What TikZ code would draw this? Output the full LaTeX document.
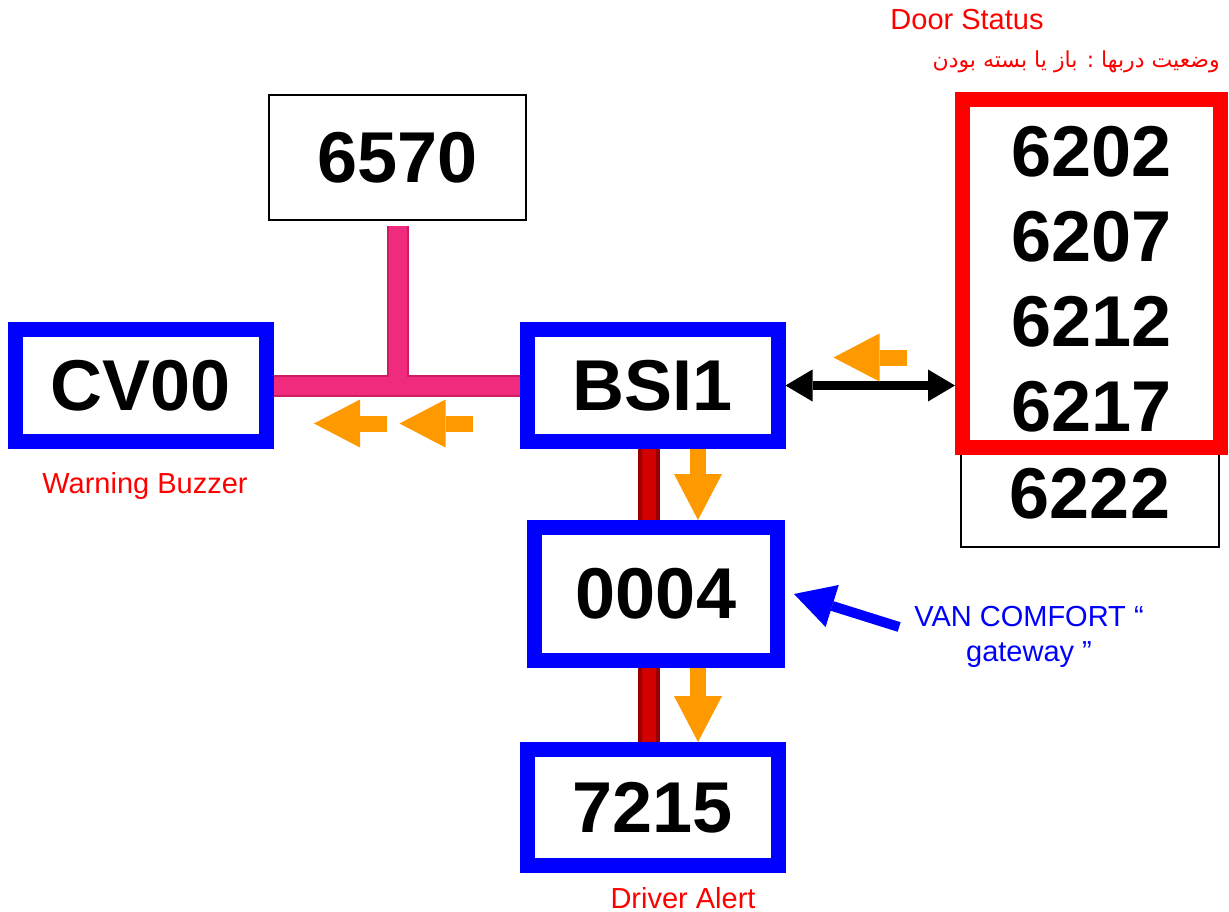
\documentclass[tikz,border=0pt]{standalone}
\usepackage{fontspec}
\setmainfont{Liberation Sans}
\newfontfamily\arabicfont[Script=Arabic]{DejaVu Sans}
\TeXXeTstate=1
\usepackage{xcolor}
\usepackage{tikz}
\usetikzlibrary{arrows.meta, positioning}
\definecolor{busPink}{RGB}{240,42,124}
\definecolor{busPinkDark}{RGB}{205,30,100}
\definecolor{busRed}{RGB}{210,0,0}
\definecolor{busRedDark}{RGB}{150,0,0}
\definecolor{flowOrange}{RGB}{255,153,0}

\begin{document}
\begin{tikzpicture}[
    x=1pt, y=-1pt,
    ecu/.style={rectangle, draw=blue, line width=15pt, fill=white, minimum width=251pt, minimum height=112pt, inner sep=0pt, font=\fontsize{72}{72}\selectfont\bfseries},
    plainecu/.style={rectangle, draw=black, line width=2pt, fill=white, minimum width=257pt, minimum height=125pt, inner sep=0pt, font=\fontsize{72}{72}\selectfont\bfseries},
    digits/.style={inner sep=0pt, font=\fontsize{72}{72}\selectfont\bfseries},
    doorbox/.style={rectangle, draw=red, line width=15pt, fill=white, minimum width=258pt, minimum height=348pt},
    pinkbus/.style={line width=22pt, color=busPinkDark},
    pinkcore/.style={line width=18pt, color=busPink},
    redbus/.style={line width=22pt, color=busRedDark},
    redcore/.style={line width=14pt, color=busRed},
    flow/.style={line width=16pt, color=flowOrange, -{Triangle[length=46pt, width=48pt, line width=0pt]}},
    link/.style={line width=9pt, color=black, {Triangle[length=27pt, width=32pt, line width=0pt]}-{Triangle[length=27pt, width=32pt, line width=0pt]}},
    pointer/.style={line width=10pt, color=blue, -{Triangle[length=40pt, width=44pt, line width=0pt]}},
    redlabel/.style={inner sep=0pt, text=red, font=\fontsize{29}{34}\selectfont},
    bluelabel/.style={inner sep=0pt, text=blue, align=center, font=\fontsize{29}{35}\selectfont}
]
\useasboundingbox[fill=white] (0,0) rectangle (1229,912);
% ECU nodes
\node[plainecu] (sixfive) at (397.5,157.5) {6570};
\node[ecu] (cv) at (141,385.5) {CV00};
\node[ecu] (bsi) at (652.5,385.5) {BSI1};
\node[ecu, minimum width=243pt, minimum height=133pt] (gw) at (656,594) {0004};
\node[ecu, minimum height=116pt] (dash) at (652.5,807.5) {7215};
% Door modules
\node[plainecu, minimum width=258pt, minimum height=106pt] (rear) at (1090,494) {6222};
\node[doorbox] (doors) at (1091.5,273.5) {};
\foreach \num [count=\i] in {6202,6207,6212,6217}
    \node[digits] (door\i) at (1091.5,{152+85*(\i-1)}) {\num};
% Labels
\node[redlabel] (doorlbl) at (967,20) {Door Status};
\node[redlabel, anchor=east, font=\fontsize{22}{26}\selectfont\arabicfont] (doorfa) at (1220,62) {\beginR وضعیت دربها : باز یا بسته بودن\endR};
\node[redlabel] (buzzer) at (145,486) {Warning Buzzer};
\node[redlabel] (alert) at (683,898) {Driver Alert};
\node[bluelabel] (van) at (1029,637) {VAN COMFORT “\\gateway ”};
% Buses
\draw[pinkbus] (cv.east) -- (bsi.west);
\draw[pinkbus, shorten <=5pt] (sixfive.south) -- (sixfive.south |- cv.east);
\draw[pinkcore] (cv.east) -- (bsi.west);
\draw[pinkcore, shorten <=5pt] (sixfive.south) -- (sixfive.south |- cv.east);
\foreach \a/\b in {bsi/gw, gw/dash} {
    \draw[redbus] ([xshift=-3.5pt]\a.south -| bsi.south) -- ([xshift=-3.5pt]\b.north -| bsi.south);
    \draw[redcore] ([xshift=-3.5pt]\a.south -| bsi.south) -- ([xshift=-3.5pt]\b.north -| bsi.south);
}
% Links
\draw[link] (bsi.east) -- (bsi.east -| doors.west);
\draw[pointer] ([shift={(-15pt,10pt)}]van.west) -- ([xshift=9pt]gw.east);
% Message flow
\draw[flow] ([shift={(-47pt,-38pt)}]bsi.west) -- ([shift={(-120pt,-38pt)}]bsi.west);
\draw[flow] ([shift={(113pt,-38pt)}]cv.east) -- ([shift={(40pt,-38pt)}]cv.east);
\draw[flow] ([shift={(121pt,28pt)}]bsi.east) -- ([shift={(48pt,28pt)}]bsi.east);
\draw[flow] ([xshift=45.5pt]bsi.south) -- ([xshift=45.5pt]bsi.south |- gw.north);
\draw[flow] ([xshift=45.5pt]gw.south -| bsi.south) -- ([xshift=45.5pt]bsi.south |- dash.north);
\end{tikzpicture}
\end{document}
